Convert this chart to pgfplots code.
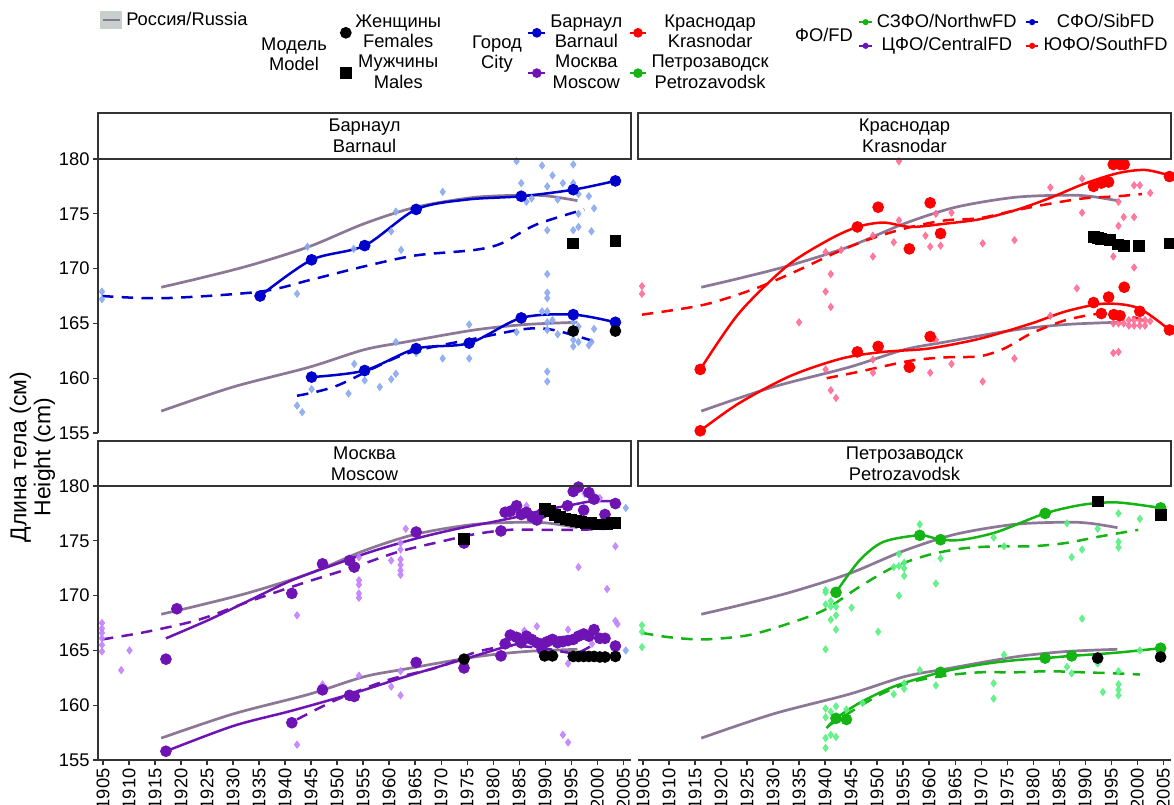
\documentclass[border=0pt]{standalone}
\usepackage{pgfplots}
\usepackage{pgfplotstable}
\pgfplotsset{compat=1.18}
\usepackage{fontspec}
\setmainfont{Liberation Sans}
\definecolor{cBar}{RGB}{0,0,205}
\definecolor{cKra}{RGB}{255,0,0}
\definecolor{cMos}{RGB}{110,20,180}
\definecolor{cPet}{RGB}{20,180,20}
\definecolor{lBar}{RGB}{140,170,240}
\definecolor{lKra}{RGB}{255,110,150}
\definecolor{lMos}{RGB}{195,130,255}
\definecolor{lPet}{RGB}{90,240,130}
\definecolor{cRus}{RGB}{140,120,150}
\definecolor{keyBg}{RGB}{200,208,204}
\definecolor{axc}{RGB}{51,51,51}

\pgfplotstableread{
x y
1916.2 168.3
1923.4 169.1
1933.3 170.3
1944.6 172.0
1955.2 174.1
1965.1 175.6
1976.4 176.5
1986.3 176.7
1990.9 176.6
1996.2 176.2
}\rusM
\pgfplotstableread{
x y
1916.2 157.0
1930.0 159.2
1944.6 161.0
1955.2 162.6
1963.1 163.3
1976.4 164.4
1986.3 164.9
1996.2 165.1
}\rusF

\pgfplotsset{
 panel/.style={scale only axis, width=255.84pt, height=131.52pt,
  xmin=1904.04, xmax=2006.5, ymin=155, ymax=180,
  xtick={1905,1910,...,2005}, ytick={155,160,...,180},
  tick align=outside, major tick length=2.4pt,
  tick style={axc, line width=0.6pt},
  axis line style={axc, line width=0.7pt, -},
  tick label style={font=\fontsize{8.8}{10}\selectfont, black},
  xticklabel style={rotate=90, anchor=east, inner sep=1.5pt},
  yticklabel style={inner sep=1.5pt},
  /pgf/number format/assume math mode=true,
  /pgf/number format/1000 sep={},
  anchor=south west},
 ind/.style={only marks, mark=diamond*, mark size=1.7pt, color=#1, opacity=0.9},
 rus/.style={cRus, line width=1.3pt, smooth, no marks},
 sol/.style={color=#1, line width=1.2pt, smooth, no marks},
 das/.style={color=#1, line width=1.2pt, smooth, no marks, dash pattern=on 5.5pt off 4pt},
 big/.style={only marks, mark=*, mark size=2.6pt, color=#1},
 bsq/.style={only marks, mark=square*, mark size=2.6pt, black},
 bci/.style={only marks, mark=*, mark size=2.6pt, black},
 legax/.style={at={(0pt,0pt)}, anchor=south west, scale only axis,
  width=563.52pt, height=385.92pt, hide axis, xmin=0, xmax=1, ymin=0, ymax=1},
}

\begin{document}
\begin{tikzpicture}
\useasboundingbox (0pt,0pt) rectangle (563.52pt,385.92pt);

% ---------- Barnaul ----------
\begin{axis}[panel, at={(47.04pt,178.08pt)}, axis y line*=left, axis x line=none]
\addplot[ind=lBar] coordinates {(1904.8,167.9)(1904.8,167.2)(1942.3,167.7)(1944.3,172.0)(1953.2,171.8)(1960.4,173.4)(1962.3,171.7)(1961.3,175.2)(1970.3,177.0)(1984.5,179.8)(1985.4,177.8)(1986.4,176.1)(1987.4,176.4)(1989.4,179.4)(1990.4,177.5)(1990.4,173.5)(1991.4,178.5)(1992.4,176.3)(1993.4,177.8)(1995.4,179.5)(1995.4,177.8)(1995.4,173.5)(1996.4,176.8)(1996.4,175.0)(1996.4,173.8)(1998.4,176.6)(1998.9,173.4)(1999.4,175.5)
(1942.3,157.5)(1943.3,156.9)(1945.1,159.0)(1952.2,158.6)(1953.3,161.3)(1955.3,159.8)(1958.2,159.2)(1960.4,159.9)(1961.3,160.4)(1961.3,163.3)(1965.2,162.3)(1970.3,161.8)(1975.4,164.9)(1975.4,161.8)(1984.5,164.2)(1990.4,169.5)(1990.4,167.8)(1990.4,167.3)(1990.4,166.1)(1990.4,165.1)(1990.4,164.4)(1990.4,160.6)(1990.4,159.7)(1989.4,166.1)(1991.4,165.3)(1992.4,164.0)(1995.4,163.5)(1995.4,162.9)(1996.4,164.7)(1996.4,163.3)(1998.4,163.0)(1998.9,163.3)(1999.4,164.5)(1995.4,165.1)};
\addplot[rus] table {\rusM};
\addplot[rus] table {\rusF};
\addplot[das=cBar] coordinates {(1904.8,167.5)(1916.7,167.3)(1935.2,167.9)(1945.1,169.0)(1955.2,170.2)(1965.1,171.2)(1976.4,171.7)(1981.6,172.3)(1988.2,174.0)(1997.5,175.4)};
\addplot[das=cBar] coordinates {(1942.3,158.4)(1949.9,159.3)(1963.1,162.2)(1976.4,163.6)(1986.3,164.5)(1991.6,164.4)(1999.2,163.4)};
\addplot[sol=cBar] coordinates {(1935.2,167.5)(1945.1,170.8)(1955.3,172.1)(1965.2,175.4)(1975,176.3)(1985.4,176.6)(1995.4,177.2)(2003.5,178.0)};
\addplot[sol=cBar] coordinates {(1945.1,160.1)(1955.3,160.7)(1965.2,162.7)(1975.4,163.2)(1985.4,165.5)(1995.4,165.8)(2003.5,165.1)};
\addplot[big=cBar] coordinates {(1935.2,167.5)(1945.1,170.8)(1955.3,172.1)(1965.2,175.4)(1985.4,176.6)(1995.4,177.2)(2003.5,178.0)(1945.1,160.1)(1955.3,160.7)(1965.2,162.7)(1975.4,163.2)(1985.4,165.5)(1995.4,165.8)(2003.5,165.1)};
\addplot[bci] coordinates {(1995.4,164.3)(2003.5,164.3)};
\addplot[bsq] coordinates {(1995.4,172.3)(2003.5,172.5)};
\end{axis}

% ---------- Krasnodar ----------
\begin{axis}[panel, at={(306.24pt,178.08pt)}, axis lines=none]
\addplot[ind=lKra] coordinates {(1904.8,168.4)(1904.8,167.7)(1916.0,160.8)(1954.2,179.8)(1940.1,171.5)(1941.1,169.5)(1940.1,167.9)(1941.1,166.5)(1943.1,171.7)(1935.0,165.1)(1949.2,173.0)(1949.2,171.1)(1953.2,172.4)(1954.2,174.4)(1959.3,173.0)(1960.2,172.0)(1961.3,175.0)(1962.2,172.1)(1964.3,175.1)(1970.3,172.3)(1976.4,172.6)(1983.3,177.4)(1989.4,178.2)(1989.4,175.1)(1995.4,171.1)(1996.4,176.1)(1996.4,173.9)(1997.4,174.7)(1999.4,174.7)(1999.4,170.1)(1999.4,177.6)(2000.5,177.6)(2002.5,176.9)
(1940.1,160.8)(1941.1,158.9)(1942.1,158.2)(1949.2,161.7)(1949.2,160.5)(1960.2,160.5)(1961.3,163.5)(1964.3,161.3)(1970.3,159.7)(1976.4,161.8)(1983.3,165.7)(1988.4,168.2)(1995.4,165.0)(1996.4,165.0)(1997.4,165.0)(1995.4,162.3)(1996.4,162.4)(1998.4,165.3)(1999.4,165.3)(2000.5,165.3)(2001.5,165.3)(2002.5,165.2)(1998.4,164.8)(1999.4,164.8)(2000.5,164.8)(2001.5,164.8)(1950.5,162.8)(1960.8,163.6)(1956.8,161.0)};
\addplot[rus] table {\rusM};
\addplot[rus] table {\rusF};
\addplot[das=cKra] coordinates {(1904.8,165.8)(1916.7,166.7)(1926.7,168.2)(1934.6,169.8)(1943.2,171.7)(1949.9,172.9)(1956.5,173.8)(1963.1,174.4)(1969.7,174.6)(1976.4,175.3)(1983.0,175.9)(1989.6,176.4)(1996.2,176.6)(2000.9,176.8)};
\addplot[das=cKra] coordinates {(1940.3,160.0)(1946.6,160.6)(1956.5,161.6)(1963.1,161.9)(1969.7,162.0)(1974.4,162.7)(1979.7,164.1)(1986.3,165.3)(1992.9,165.9)(1997.5,165.8)(2002.2,165.1)};
\addplot[sol=cKra] coordinates {(1916.0,160.8)(1923.4,165.9)(1932.6,170.2)(1940.6,172.6)(1946.2,173.8)(1951.2,174.2)(1956.5,173.8)(1963.1,174.1)(1969.7,174.5)(1976.4,175.3)(1983.0,176.4)(1989.6,177.7)(1996.2,178.7)(2001.5,179.0)(2006.2,178.5)};
\addplot[sol=cKra] coordinates {(1916.0,155.2)(1923.4,157.7)(1933.3,160.2)(1943.2,161.8)(1951.2,162.4)(1959.8,162.7)(1969.7,163.6)(1979.7,165.0)(1986.3,166.1)(1993.6,166.8)(2000.2,166.4)(2006.2,164.4)};
\addplot[big=cKra] coordinates {(1916.0,160.8)(1946.2,173.8)(1950.2,175.6)(1960.2,176.0)(1956.2,171.8)(1962.2,173.2)(1991.6,177.5)(1993.1,177.8)(1994.5,177.9)(1995.4,179.5)(1996.7,179.5)(1997.5,179.5)(2006.2,178.4)
(1916.0,155.2)(1946.2,162.4)(1950.2,162.9)(1960.2,163.8)(1956.2,161.0)(1991.6,166.9)(1993.1,165.9)(1994.5,167.4)(1995.5,165.8)(1996.7,165.7)(1997.5,168.3)(2000.5,166.1)(2006.2,164.4)};
\addplot[bsq] coordinates {(1991.6,172.9)(1992.4,172.8)(1993.1,172.7)(1994.8,172.6)(1996.3,172.2)(1997.4,172.1)(2000.4,172.1)(2006.2,172.3)};
\end{axis}

% ---------- Moscow ----------
\begin{axis}[panel, at={(47.04pt,21.12pt)}, axis x line*=bottom, axis y line*=left]
\addplot[ind=lMos] coordinates {(1904.8,167.5)(1904.8,167.0)(1904.8,166.6)(1904.8,166.1)(1904.8,165.5)(1904.8,164.9)(1910.1,165.0)(1908.5,163.2)(1917.1,164.2)(1942.3,168.2)(1942.3,156.4)(1947.2,161.9)(1954.2,173.5)(1954.2,171.4)(1954.2,171.0)(1954.2,170.2)(1954.2,169.8)(1954.2,162.7)(1960.4,173.2)(1960.4,161.7)(1962.2,174.8)(1962.2,174.2)(1962.2,173.3)(1962.2,172.8)(1962.2,172.3)(1962.2,171.9)(1962.2,163.1)(1962.2,160.9)(1963.2,176.1)(1974.4,174.8)(1986.4,178.2)(1988.4,167.2)(1993.4,157.3)(1994.4,156.6)(1996.4,172.6)(2001.9,170.6)(2003.5,174.5)(2003.5,167.7)(2003.9,167.4)(1994.4,166.9)(1994.4,163.8)(1997.6,179.3)(2000.5,178.9)(1986.0,166.8)(1999.0,165.6)};
\addplot[ind=lBar] coordinates {(2005.5,178.0)(2005.5,165.0)};
\addplot[rus] table {\rusM};
\addplot[rus] table {\rusF};
\addplot[das=cMos] coordinates {(1904.8,166.0)(1913.4,166.7)(1923.4,167.8)(1933.3,169.5)(1943.2,171.1)(1953.2,172.6)(1961.8,174.0)(1969.7,174.9)(1976.4,175.6)(1983.0,176.0)(1989.6,176.0)(1996.2,176.0)(2001.5,176.1)};
\addplot[das=cMos] coordinates {(1942.3,158.7)(1949.9,160.5)(1959.8,162.3)(1969.7,163.5)(1976.4,164.8)(1983.0,165.4)(1989.6,165.2)(1996.2,164.8)(2001.5,166.3)};
\addplot[sol=cMos] coordinates {(1917.1,166.1)(1925.4,167.8)(1933.3,169.6)(1941.3,171.4)(1949.9,172.9)(1956.5,174.0)(1965.1,175.2)(1973.1,176.1)(1979.7,176.7)(1985.7,177.3)(1989.6,177.8)(1994.3,178.2)(1998.9,178.6)(2003.5,178.6)};
\addplot[sol=cMos] coordinates {(1917.1,155.8)(1930.0,158.1)(1941.3,159.5)(1953.2,161.1)(1963.1,162.6)(1974.4,164.2)(1983.0,165.4)(1989.6,166.0)(1996.2,166.3)(2001.5,166.0)};
\addplot[big=cMos] coordinates {(1919.2,168.8)(1941.3,170.2)(1947.2,172.9)(1952.4,173.2)(1953.3,172.6)(1965.2,175.8)(1974.4,174.8)(1981.5,175.9)(1982.3,177.6)(1983.3,177.7)(1984.5,178.2)(1985.4,177.4)(1986.4,177.6)(1987.4,177.2)(1988.4,176.9)(1989.4,177.5)(1994.3,178.2)(1995.4,179.5)(1996.4,179.9)(1997.4,177.8)(1998.4,179.4)(1999.4,178.8)(2001.5,177.4)(2003.5,178.4)
(1917.1,164.2)(1917.1,155.8)(1941.3,158.4)(1947.2,161.4)(1952.4,160.9)(1953.3,160.8)(1965.2,163.9)(1974.4,163.4)(1981.5,164.5)(1982.3,165.6)(1983.3,166.4)(1984.5,166.2)(1985.4,165.7)(1986.4,166.3)(1987.4,166.0)(1988.4,165.7)(1989.4,165.1)(1990.4,165.8)(1991.4,166.0)(1992.4,165.7)(1993.4,165.8)(1994.4,165.9)(1995.4,166.0)(1996.4,166.3)(1997.4,166.5)(1998.4,166.3)(1999.4,166.9)(2000.5,166.1)(2001.5,166.1)(2003.5,165.4)};
\addplot[bsq] coordinates {(1974.4,175.2)(1989.9,177.9)(1990.9,177.7)(1991.9,177.4)(1992.9,177.2)(1993.9,177.0)(1994.9,176.9)(1995.9,176.8)(1996.9,176.7)(1997.9,176.6)(1998.9,176.6)(1999.9,176.5)(2000.9,176.5)(2001.9,176.5)(2002.9,176.6)(2003.5,176.6)};
\addplot[bci] coordinates {(1974.4,164.2)(1989.9,164.5)(1991.4,164.5)(1995.4,164.45)(1996.4,164.45)(1997.4,164.45)(1998.4,164.45)(1999.4,164.45)(2000.5,164.4)(2001.5,164.4)(2003.5,164.45)};
\end{axis}

% ---------- Petrozavodsk ----------
\begin{axis}[panel, at={(306.24pt,21.12pt)}, axis x line*=bottom, axis y line=none]
\addplot[ind=lPet] coordinates {(1904.8,167.3)(1904.8,166.7)(1904.8,165.3)(1940.1,170.5)(1940.1,170.3)(1940.1,169.2)(1940.1,165.1)(1941.1,169.5)(1941.1,169.0)(1941.1,167.8)(1942.1,169.0)(1942.1,168.2)(1942.1,166.9)(1945.1,168.9)(1950.2,166.7)(1953.2,172.6)(1954.2,172.7)(1954.2,173.8)(1954.2,170.0)(1955.2,173.0)(1955.2,172.5)(1955.2,171.8)(1958.2,176.5)(1961.3,171.1)(1962.2,173.4)(1972.4,175.3)(1974.4,174.5)(1986.5,176.6)(1987.4,173.5)(1989.4,174.2)(1989.4,167.9)(1992.4,176.1)(1996.4,177.5)(1996.4,174.9)(1996.4,174.4)(2000.5,177.0)
(1940.1,159.7)(1940.1,158.9)(1940.1,157.0)(1940.1,156.1)(1941.1,159.4)(1941.1,157.3)(1942.1,159.9)(1942.1,157.1)(1944.1,159.6)(1947.2,160.2)(1953.2,161.0)(1955.2,162.0)(1955.2,161.5)(1958.2,163.2)(1961.3,161.8)(1972.4,162.0)(1972.4,160.6)(1974.4,164.6)(1986.5,163.5)(1987.4,162.9)(1993.4,161.2)(1992.4,163.8)(1996.4,163.1)(1996.4,161.9)(1996.4,161.4)(1996.4,160.9)(2000.5,165.0)};
\addplot[rus] table {\rusM};
\addplot[rus] table {\rusF};
\addplot[das=cPet] coordinates {(1904.8,166.6)(1910.1,166.2)(1916.8,166.0)(1925.4,166.4)(1933.3,167.5)(1939.9,168.7)(1946.6,170.8)(1953.2,172.6)(1959.8,173.7)(1966.4,174.3)(1973.0,174.5)(1979.7,174.5)(1986.3,174.8)(1992.9,175.4)(2000.2,176.0)};
\addplot[das=cPet] coordinates {(1940.6,158.1)(1949.9,160.8)(1956.5,162.1)(1963.1,162.7)(1969.7,163.0)(1976.4,163.0)(1983.0,163.1)(1989.6,163.0)(1996.2,162.9)(2000.5,162.8)};
\addplot[sol=cPet] coordinates {(1942.1,170.3)(1946.6,173.2)(1951.2,174.9)(1958.2,175.5)(1962.2,175.1)(1966.4,175.1)(1973.0,175.8)(1982.3,177.5)(1989.6,178.3)(1996.2,178.5)(2004.5,178.0)};
\addplot[sol=cPet] coordinates {(1940.3,157.9)(1942.1,158.8)(1946.6,160.2)(1953.2,161.7)(1962.2,163.0)(1969.7,163.7)(1976.4,164.1)(1982.3,164.3)(1987.4,164.5)(1996.2,164.8)(2004.5,165.2)};
\addplot[big=cPet] coordinates {(1942.1,170.3)(1958.2,175.5)(1962.2,175.1)(1982.3,177.5)(2004.5,178.0)(1942.1,158.8)(1944.1,158.7)(1962.2,163.0)(1982.3,164.3)(1987.4,164.5)(2004.5,165.2)};
\addplot[bsq] coordinates {(1992.4,178.6)(2004.5,177.4)};
\addplot[bci] coordinates {(1992.4,164.3)(2004.5,164.4)};
\end{axis}

% ---------- strips ----------
\begin{scope}[line width=0.7pt, draw=axc]
\draw (47.04pt,309.6pt) rectangle (302.88pt,331.68pt);
\draw (306.24pt,309.6pt) rectangle (562.08pt,331.68pt);
\draw (47.04pt,152.64pt) rectangle (302.88pt,174.24pt);
\draw (306.24pt,152.64pt) rectangle (562.08pt,174.24pt);
\end{scope}
\begin{scope}[every node/.style={align=center, font=\fontsize{8.8}{10}\selectfont, inner sep=0pt}]
\node at (174.96pt,320.64pt) {Барнаул\\Barnaul};
\node at (434.16pt,320.64pt) {Краснодар\\Krasnodar};
\node at (174.96pt,163.44pt) {Москва\\Moscow};
\node at (434.16pt,163.44pt) {Петрозаводск\\Petrozavodsk};
\end{scope}

% ---------- y title ----------
\node[rotate=90, align=center, font=\fontsize{11}{11.5}\selectfont] at (15.6pt,166.5pt) {Длина тела (см)\\Height (cm)};

% ---------- legend titles ----------
\node[align=center, font=\fontsize{8.8}{9.8}\selectfont] at (141.12pt,360.0pt) {Модель\\Model};
\node[align=center, font=\fontsize{8.8}{9.8}\selectfont] at (238.56pt,360.0pt) {Город\\City};
\node[font=\fontsize{8.8}{9.8}\selectfont] at (395.52pt,369.12pt) {ФО/FD};

% ---------- legends ----------
\begin{axis}[legax, legend style={at={(0.0852,0.9751)}, anchor=west, draw=none, fill=none, inner sep=0pt, font=\fontsize{8.8}{9.8}\selectfont}]
\addlegendimage{legend image code/.code={\fill[keyBg] (0pt,-4pt) rectangle (10pt,4pt); \draw[cRus, line width=1.3pt] (1pt,0pt) -- (9pt,0pt);}}
\addlegendentry{Россия/Russia}
\end{axis}

\begin{axis}[legax, legend style={at={(0.2896,0.9341)}, anchor=west, draw=none, fill=none, inner sep=0pt, font=\fontsize{8.8}{9.8}\selectfont, cells={align=center}, row sep=-2pt},
 legend image code/.code={\draw[mark repeat=2,mark phase=2,#1] plot coordinates {(0pt,0pt) (3pt,0pt) (6pt,0pt)};}]
\addlegendimage{only marks, mark=*, mark size=2.6pt, black}
\addlegendentry{Женщины\\Females}
\addlegendimage{only marks, mark=square*, mark size=2.6pt, black}
\addlegendentry{Мужчины\\Males}
\end{axis}

\begin{axis}[legax, legend columns=2, legend style={at={(0.4489,0.9341)}, anchor=west, draw=none, fill=none, inner sep=0pt, font=\fontsize{8.8}{9.8}\selectfont, cells={align=center}, row sep=-2pt, /tikz/every even column/.append style={column sep=1pt}},
 legend image code/.code={\draw[mark repeat=2,mark phase=2,#1] plot coordinates {(0pt,0pt) (4pt,0pt) (8pt,0pt)};}]
\addlegendimage{mark=*, mark size=1.8pt, line width=1pt, cBar}
\addlegendentry{Барнаул\\Barnaul}
\addlegendimage{mark=*, mark size=1.8pt, line width=1pt, cKra}
\addlegendentry{Краснодар\\Krasnodar}
\addlegendimage{mark=*, mark size=1.8pt, line width=1pt, cMos}
\addlegendentry{Москва\\Moscow}
\addlegendimage{mark=*, mark size=1.8pt, line width=1pt, cPet}
\addlegendentry{Петрозаводск\\Petrozavodsk}
\end{axis}

\begin{axis}[legax, legend columns=2, legend style={at={(0.7308,0.9577)}, anchor=west, draw=none, fill=none, inner sep=0pt, font=\fontsize{8.8}{9.8}\selectfont, row sep=-0.5pt, /tikz/every even column/.append style={column sep=2pt}},
 legend image code/.code={\draw[mark repeat=2,mark phase=2,#1] plot coordinates {(0pt,0pt) (3pt,0pt) (6pt,0pt)};}]
\addlegendimage{mark=*, mark size=1pt, line width=0.9pt, cPet}
\addlegendentry{СЗФО/NorthwFD}
\addlegendimage{mark=*, mark size=1pt, line width=0.9pt, cBar}
\addlegendentry{СФО/SibFD}
\addlegendimage{mark=*, mark size=1pt, line width=0.9pt, cMos}
\addlegendentry{ЦФО/CentralFD}
\addlegendimage{mark=*, mark size=1pt, line width=0.9pt, cKra}
\addlegendentry{ЮФО/SouthFD}
\end{axis}
\end{tikzpicture}
\end{document}
